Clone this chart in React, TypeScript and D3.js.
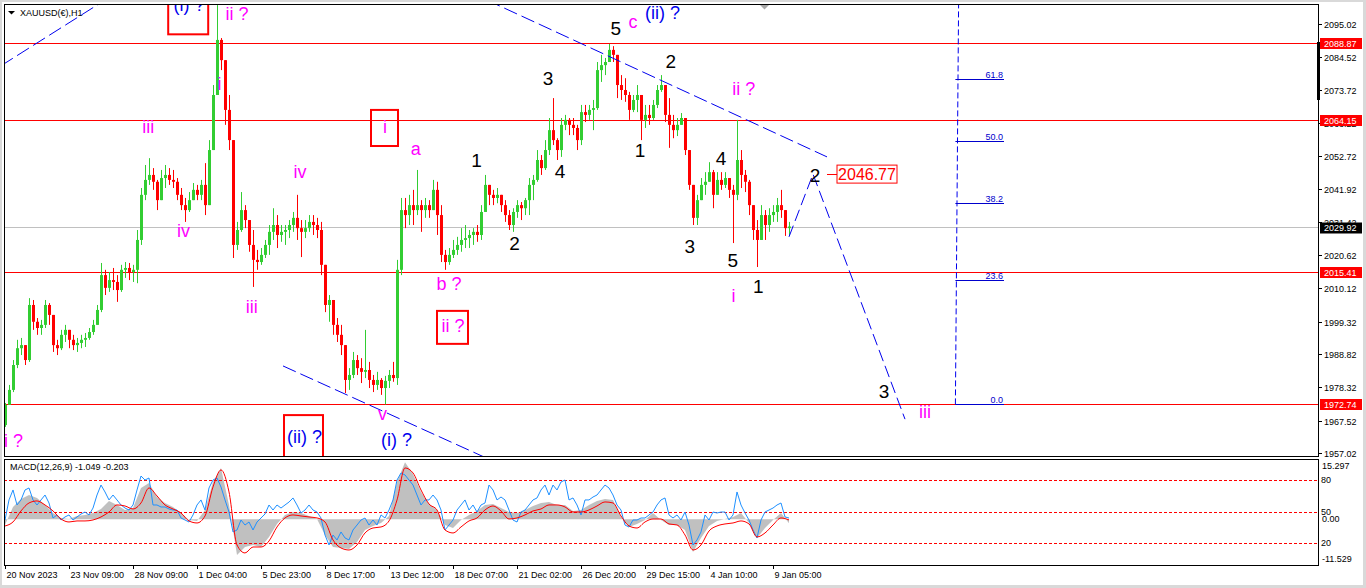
import React from 'react';
import * as d3 from 'd3';

// XAUUSD H1 bars, one entry per ~4 hourly bars
const highs = [
  1973.2, 1979.0, 1987.0, 1993.5, 1994.1, 1991.8, 2006.9, 2006.3, 2000.5, 1999.9,
  2006.3, 2005.3, 2001.5, 1993.5, 1996.7, 1998.3, 1996.7, 1995.1, 1994.1, 1995.1,
  1995.7, 1997.3, 1999.9, 2004.7, 2018.2, 2016.0, 2015.3, 2016.6, 2014.3, 2017.6,
  2018.5, 2018.2, 2017.6, 2028.8, 2042.3, 2049.7, 2051.9, 2048.7, 2044.9, 2048.1,
  2049.7, 2048.7, 2048.1, 2045.5, 2042.3, 2039.1, 2041.0, 2043.9, 2043.3, 2044.9,
  2050.3, 2057.7, 2075.4, 2101.1, 2090.5, 2080.2, 2072.2, 2057.7, 2031.4, 2041.0,
  2036.8, 2032.0, 2028.8, 2022.4, 2023.0, 2025.6, 2030.4, 2035.8, 2033.6, 2030.4,
  2030.4, 2032.0, 2034.6, 2040.1, 2032.0, 2032.0, 2033.6, 2033.6, 2032.7, 2031.4,
  2014.3, 2007.9, 2006.3, 2000.5, 1998.3, 1991.8, 1984.4, 1989.6, 1988.6, 1987.6,
  1996.7, 1986.4, 1982.2, 1983.2, 1981.2, 1981.9, 1983.8, 1986.4, 2019.2, 2039.1,
  2039.1, 2040.1, 2041.7, 2048.1, 2038.4, 2039.1, 2038.4, 2044.9, 2044.3, 2036.8,
  2022.4, 2023.0, 2025.6, 2026.6, 2029.4, 2030.4, 2028.8, 2029.4, 2030.4, 2036.8,
  2046.5, 2042.3, 2041.7, 2042.3, 2040.1, 2038.4, 2035.2, 2035.8, 2038.4, 2037.8,
  2039.1, 2045.5, 2046.5, 2054.5, 2052.9, 2057.7, 2064.8, 2071.2, 2058.3, 2064.8,
  2065.8, 2064.8, 2064.8, 2062.6, 2069.0, 2069.0, 2069.0, 2070.6, 2082.8, 2085.1,
  2084.1, 2088.6, 2087.9, 2085.1, 2078.6, 2077.6, 2073.2, 2072.2, 2075.4, 2072.2,
  2069.0, 2069.0, 2070.6, 2075.4, 2078.6, 2072.2, 2071.2, 2065.8, 2064.8, 2066.4,
  2062.6, 2054.5, 2043.3, 2040.1, 2045.5, 2047.4, 2050.6, 2048.1, 2047.4, 2047.4,
  2047.4, 2045.5, 2043.3, 2064.2, 2054.5, 2048.1, 2044.9, 2036.8, 2032.0, 2036.8,
  2035.2, 2035.8, 2036.8, 2039.1, 2041.7, 2035.2, 2031.4,
];
const lows = [
  1965.5, 1972.6, 1976.7, 1984.4, 1988.6, 1985.4, 1986.4, 1996.7, 1995.1, 1995.1,
  1997.3, 1998.3, 1989.6, 1988.6, 1990.2, 1992.8, 1990.8, 1990.2, 1989.6, 1990.8,
  1991.2, 1993.5, 1995.1, 1998.3, 2002.4, 2007.9, 2008.9, 2009.5, 2005.7, 2008.9,
  2013.4, 2012.7, 2012.1, 2011.7, 2024.0, 2038.4, 2043.3, 2041.7, 2035.2, 2038.4,
  2042.3, 2043.3, 2042.3, 2038.4, 2035.2, 2031.4, 2034.6, 2038.4, 2038.4, 2038.4,
  2033.6, 2041.7, 2054.5, 2072.2, 2080.2, 2062.6, 2054.5, 2019.8, 2022.4, 2028.2,
  2029.4, 2021.8, 2010.5, 2016.0, 2017.6, 2019.8, 2020.8, 2025.6, 2023.0, 2025.0,
  2024.0, 2026.2, 2028.2, 2025.6, 2020.1, 2026.2, 2028.2, 2027.2, 2026.2, 2014.3,
  2002.4, 1999.3, 1995.1, 1992.8, 1988.6, 1976.4, 1977.4, 1981.2, 1982.2, 1979.6,
  1981.2, 1978.0, 1976.7, 1977.4, 1975.8, 1972.7, 1978.0, 1980.0, 1979.0, 2014.3,
  2029.4, 2030.4, 2030.4, 2033.6, 2028.2, 2032.7, 2032.7, 2036.8, 2027.2, 2018.5,
  2016.0, 2017.6, 2019.8, 2020.8, 2021.8, 2023.0, 2023.0, 2024.0, 2025.0, 2025.6,
  2034.6, 2036.8, 2036.8, 2037.4, 2034.6, 2031.4, 2028.8, 2028.2, 2032.7, 2032.0,
  2033.6, 2033.6, 2038.4, 2044.3, 2046.5, 2048.1, 2052.9, 2056.1, 2051.3, 2052.3,
  2060.9, 2059.3, 2059.3, 2054.5, 2056.1, 2063.5, 2064.2, 2060.9, 2067.4, 2076.4,
  2078.6, 2082.8, 2082.8, 2071.2, 2070.6, 2070.0, 2064.2, 2066.7, 2066.7, 2057.7,
  2061.6, 2062.6, 2064.2, 2068.0, 2073.2, 2063.5, 2055.2, 2058.3, 2059.0, 2062.6,
  2052.9, 2041.7, 2030.4, 2030.4, 2038.4, 2040.1, 2044.9, 2035.8, 2041.0, 2041.7,
  2042.3, 2039.1, 2024.6, 2038.4, 2042.3, 2041.0, 2033.6, 2025.6, 2016.9, 2026.2,
  2025.6, 2028.2, 2031.4, 2031.4, 2032.7, 2026.9, 2027.2,
];
const closes = [
  1972.6, 1977.4, 1985.4, 1990.8, 1991.8, 1987.0, 2004.7, 1999.3, 1997.3, 1998.3,
  2004.7, 2001.5, 1991.8, 1990.8, 1995.1, 1996.7, 1993.5, 1991.8, 1992.5, 1993.5,
  1994.1, 1996.0, 1998.3, 2003.1, 2014.3, 2010.2, 2012.7, 2012.1, 2009.5, 2016.0,
  2016.6, 2015.3, 2016.0, 2025.6, 2040.1, 2044.9, 2046.5, 2044.3, 2038.4, 2045.5,
  2046.5, 2044.9, 2044.3, 2040.1, 2036.8, 2035.2, 2038.4, 2041.7, 2040.1, 2043.3,
  2036.8, 2054.5, 2072.2, 2089.9, 2083.4, 2067.4, 2057.7, 2024.0, 2028.8, 2035.2,
  2032.0, 2024.0, 2019.2, 2018.5, 2020.8, 2024.0, 2028.2, 2030.4, 2027.2, 2028.2,
  2028.8, 2030.4, 2032.7, 2029.4, 2028.2, 2029.4, 2031.4, 2030.4, 2028.8, 2017.6,
  2004.7, 2006.3, 1998.3, 1995.1, 1991.8, 1980.6, 1982.2, 1987.0, 1984.4, 1983.2,
  1983.8, 1980.6, 1979.0, 1980.6, 1978.0, 1980.3, 1982.2, 1981.2, 2016.0, 2035.2,
  2033.6, 2036.8, 2035.2, 2036.8, 2035.2, 2036.8, 2035.2, 2041.7, 2033.6, 2020.8,
  2018.5, 2020.8, 2022.4, 2024.0, 2025.6, 2026.2, 2027.2, 2028.2, 2027.2, 2034.6,
  2043.3, 2040.1, 2039.1, 2040.1, 2036.8, 2033.6, 2030.4, 2034.6, 2036.8, 2035.8,
  2038.4, 2043.3, 2044.9, 2051.3, 2048.7, 2054.5, 2060.9, 2057.7, 2054.5, 2062.6,
  2064.2, 2062.6, 2061.6, 2057.7, 2066.7, 2065.8, 2067.4, 2068.0, 2080.2, 2081.8,
  2082.8, 2086.7, 2085.1, 2075.4, 2073.8, 2072.2, 2067.4, 2070.6, 2072.2, 2064.2,
  2065.8, 2064.8, 2069.0, 2073.8, 2075.4, 2065.8, 2062.6, 2060.9, 2062.6, 2064.8,
  2054.5, 2043.3, 2032.7, 2038.4, 2043.3, 2044.3, 2047.4, 2040.1, 2044.9, 2043.3,
  2045.5, 2041.7, 2040.1, 2051.3, 2046.5, 2044.3, 2036.8, 2028.8, 2025.6, 2033.6,
  2030.4, 2033.6, 2034.6, 2036.8, 2035.2, 2029.4, 2029.92,
];
const firstOpen = 1966.1;

// MACD(12,26,9): main and signal, one value every 2 bars
const macdMain = [
  -1.53, 3.21, 5.32, 6.37, 5.58, 3.74, 1.63, 0.32, 0.05, 0.84,
  1.11, 1.63, 2.68, 4.79, 3.74, 2.42, 2.95, 8.21, 9.53, 5.84,
  4.26, 3.21, 1.63, -0.21, -0.47, 2.42, 9.79, 13.47, 3.74, -9.42,
  -7.32, -6.79, -7.32, -4.68, -1.26, 1.11, 1.89, 1.63, 0.84, 0.05,
  -4.16, -7.32, -7.58, -7.84, -6.0, -2.84, -1.79, -1.0, 0.84, 9.79,
  15.0, 11.89, 7.16, 4.0, 2.42, -1.53, -2.32, -0.21, 1.11, 2.16,
  3.74, 4.0, 2.95, 1.89, 1.63, 2.42, 3.47, 4.26, 4.53, 3.74,
  3.74, 2.16, 2.42, 3.74, 4.79, 5.32, 5.05, 0.58, -2.05, -1.26,
  -0.21, 1.63, -0.21, -1.53, -1.53, -2.84, -8.63, -4.95, -1.79, -0.47,
  0.05, 0.58, 1.63, -1.0, -4.95, -2.32, -0.21, 1.63, -1.049,
];
const macdSignal = [
  -1.79, -0.74, 2.16, 4.26, 4.79, 3.74, 2.16, 0.05, -0.74, -0.47,
  -0.47, -0.21, 0.58, 1.89, 3.74, 3.47, 2.68, 4.26, 8.21, 6.11,
  3.74, 2.68, 1.63, -0.47, -1.0, 0.84, 8.47, 12.95, 7.16, -6.79,
  -8.89, -7.32, -7.32, -5.74, -2.05, 0.32, 1.11, 0.84, 0.58, 0.32,
  -0.74, -5.47, -7.58, -8.11, -6.79, -3.63, -2.32, -2.05, -0.47, 5.05,
  13.47, 12.16, 7.68, 4.0, 2.42, -2.84, -3.63, -2.05, -0.47, 0.32,
  2.42, 3.47, 2.16, 0.05, 0.32, 1.11, 2.16, 2.68, 3.74, 3.74,
  3.21, 1.89, 1.89, 2.42, 3.47, 4.53, 4.26, 0.84, -1.79, -2.32,
  -0.74, 0.05, 0.05, -1.26, -1.53, -4.16, -8.11, -6.79, -3.11, -1.79,
  -1.26, -1.0, -0.47, -1.26, -4.68, -3.63, -1.53, 0.32, -0.203,
];
// blue oscillator on the 0..100 level scale, one value per bar
const oscValues = [
  41.9, 61.0, 70.5, 56.2, 61.0, 70.5, 72.4, 61.0, 56.2, 61.0,
  65.7, 58.1, 43.8, 46.7, 41.9, 44.8, 46.7, 41.9, 44.8, 47.6,
  49.5, 46.7, 53.3, 65.7, 75.2, 68.6, 61.0, 65.7, 61.0, 56.2,
  53.3, 51.4, 56.2, 70.5, 83.8, 80.0, 81.9, 56.2, 56.2, 54.3,
  54.3, 52.4, 51.4, 51.4, 43.8, 41.9, 40.0, 46.7, 56.2, 61.0,
  51.4, 72.4, 80.0, 81.9, 73.3, 61.0, 49.5, 30.5, 32.4, 41.9,
  37.1, 40.0, 32.4, 40.0, 43.8, 47.6, 56.2, 51.4, 56.2, 53.3,
  56.2, 59.0, 62.9, 56.2, 48.6, 51.4, 56.2, 51.4, 49.5, 43.8,
  27.6, 18.1, 27.6, 22.9, 30.5, 24.8, 22.9, 32.4, 37.1, 41.9,
  43.8, 37.1, 41.9, 37.1, 46.7, 43.8, 51.4, 61.0, 80.0, 86.7,
  84.8, 80.0, 75.2, 65.7, 56.2, 61.0, 61.0, 65.7, 61.0, 51.4,
  32.4, 37.1, 41.9, 51.4, 56.2, 61.0, 51.4, 56.2, 49.5, 56.2,
  58.1, 75.2, 70.5, 61.0, 63.8, 61.0, 51.4, 41.9, 40.0, 49.5,
  51.4, 56.2, 61.0, 62.9, 70.5, 75.2, 65.7, 75.2, 70.5, 78.1,
  80.0, 61.0, 62.9, 56.2, 46.7, 61.0, 61.0, 63.8, 65.7, 70.5,
  75.2, 72.4, 65.7, 56.2, 51.4, 37.1, 35.2, 41.9, 41.9, 43.8,
  43.8, 46.7, 49.5, 56.2, 61.0, 62.9, 46.7, 43.8, 46.7, 41.9,
  49.5, 37.1, 18.1, 22.9, 30.5, 46.7, 41.9, 49.5, 48.6, 49.5,
  49.5, 41.9, 46.7, 68.6, 56.2, 48.6, 41.9, 32.4, 24.8, 41.9,
  49.5, 51.4, 53.3, 56.2, 58.1, 44.8, 43.8,
];
const oscLevels = [80, 50, 20];
const macdRange = [-11.529, 15.297];

const priceTicks = [2095.02, 2084.52, 2073.72, 2063.22, 2052.72, 2041.92, 2031.42, 2020.62, 2010.12, 1999.32, 1988.82, 1978.32, 1967.52, 1957.02];
const levelPrices = [2088.87, 2064.15, 2015.41, 1972.74];
const lastPrice = 2029.92;
const dateLabels = ['20 Nov 2023', '23 Nov 09:00', '28 Nov 09:00', '1 Dec 04:00', '5 Dec 23:00', '8 Dec 17:00', '13 Dec 12:00', '18 Dec 07:00', '21 Dec 02:00', '26 Dec 20:00', '29 Dec 15:00', '4 Jan 10:00', '9 Jan 05:00'];
const dateStep = 16;

// fibonacci retracement
const fibLevels = [0, 23.6, 38.2, 50.0, 61.8];
const fibBase = 1972.74;
const fibRange = 169.1;
const fibTimes = [237.6, 238.4, 249.75];

// trend lines and projected path, [bar, price]
const trendLines = [
  [[-1, 2081.6], [24, 2101.9]],
  [[69.5, 1985.1], [120, 1955.7]],
  [[120.5, 2102.7], [205.5, 2052.3]],
];
const projTimes = [196, 202, 225];
const projPrices = [2026.6, 2046.77, 1968.0];
const targetPrice = 2046.77;

const waveLabels = [
  { t: 2.1, p: 1959.0, text: 'i ?', kind: 'm' },
  { t: 35.8, p: 2059.9, text: 'iii', kind: 'm' },
  { t: 44.6, p: 2026.6, text: 'iv', kind: 'm' },
  { t: 53.6, p: 2073.8, text: 'i', kind: 'm' },
  { t: 58.0, p: 2096.3, text: 'ii ?', kind: 'm' },
  { t: 61.7, p: 2002.1, text: 'iii', kind: 'm' },
  { t: 73.75, p: 2045.5, text: 'iv', kind: 'm' },
  { t: 94.4, p: 1967.7, text: 'v', kind: 'm' },
  { t: 95.0, p: 2059.9, text: 'i', kind: 'm' },
  { t: 102.7, p: 2052.9, text: 'a', kind: 'm' },
  { t: 111.0, p: 2009.5, text: 'b ?', kind: 'm' },
  { t: 112.0, p: 1996.0, text: 'ii ?', kind: 'm' },
  { t: 157.0, p: 2093.7, text: 'c', kind: 'm' },
  { t: 182.1, p: 2005.7, text: 'i', kind: 'm' },
  { t: 184.7, p: 2072.2, text: 'ii ?', kind: 'm' },
  { t: 230.0, p: 1968.4, text: 'iii', kind: 'm' },
  { t: 46.0, p: 2099.2, text: '(i) ?', kind: 'b' },
  { t: 74.9, p: 1960.3, text: '(ii) ?', kind: 'b' },
  { t: 97.9, p: 1959.4, text: '(i) ?', kind: 'b' },
  { t: 164.4, p: 2096.6, text: '(ii) ?', kind: 'b' },
  { t: 117.9, p: 2049.1, text: '1', kind: 'k' },
  { t: 127.4, p: 2022.4, text: '2', kind: 'k' },
  { t: 135.75, p: 2075.4, text: '3', kind: 'k' },
  { t: 138.75, p: 2045.5, text: '4', kind: 'k' },
  { t: 152.7, p: 2091.5, text: '5', kind: 'k' },
  { t: 158.75, p: 2052.3, text: '1', kind: 'k' },
  { t: 166.45, p: 2080.9, text: '2', kind: 'k' },
  { t: 171.2, p: 2021.4, text: '3', kind: 'k' },
  { t: 179.0, p: 2049.7, text: '4', kind: 'k' },
  { t: 181.95, p: 2016.9, text: '5', kind: 'k' },
  { t: 188.3, p: 2008.5, text: '1', kind: 'k' },
  { t: 202.5, p: 2044.2, text: '2', kind: 'k' },
  { t: 219.75, p: 1974.8, text: '3', kind: 'k' },
];
const labelBoxes = [
  { t0: 40.8, t1: 50.8, p0: 2106, p1: 2091.7 },
  { t0: 91.5, t1: 98.25, p0: 2067.4, p1: 2055.8 },
  { t0: 108, t1: 115.75, p0: 2002.8, p1: 1992.2 },
  { t0: 69.75, t1: 79.5, p0: 1969.3, p1: 1952 },
];

const FONT = "'Liberation Sans', Arial, sans-serif";
const GREEN = '#32cd32';
const RED = '#ff0000';
const MAG = '#ff00ff';
const BLUE = '#0000ee';
const kindColor: Record<string, string> = { m: MAG, b: BLUE, k: '#000' };

const W = 1366, H = 588;
const L = 4, R = 1318, T = 4, B = 456;
const MT = 459, MB = 565;

const App: React.FC = () => {
  const x = d3.scaleLinear().domain([0, 196]).range([5, 789]);
  const y = d3.scaleLinear().domain([1957.02, 2095.02]).range([453.3, 24]);
  const my = d3.scaleLinear().domain(macdRange).range([563, 461]);
  const oy = d3.scaleLinear().domain([0, 100]).range([564, 459]);
  const snap = (v: number) => Math.round(v) + 0.5;

  const histArea = d3.area<number>()
    .x((_, i) => x(i * 2))
    .y0(my(0))
    .y1(d => my(d));
  const signalLine = d3.line<number>()
    .x((_, i) => x(i * 2))
    .y(d => my(d))
    .curve(d3.curveMonotoneX);
  const oscLine = d3.line<number>()
    .x((_, i) => x(i))
    .y(d => oy(d));
  const projLine = d3.line<number>()
    .x((_, i) => x(projTimes[i]))
    .y(d => y(d));

  const fibX1 = x(fibTimes[0]);
  const fibX2 = x(fibTimes[2]);
  const targetY = y(targetPrice);

  return (
    <div>
      <style>{'body{margin:0;overflow:hidden}'}</style>
      <svg width={W} height={H} style={{ display: 'block', fontFamily: FONT }}>
        <defs>
          <clipPath id="mainClip"><rect x={L + 1} y={T + 1} width={R - L - 1} height={B - T - 1} /></clipPath>
          <clipPath id="macdClip"><rect x={L + 1} y={MT + 1} width={R - L - 1} height={MB - MT - 1} /></clipPath>
        </defs>
        <rect width={W} height={H} fill="#d9d9d9" />
        <rect x={2} y={2} width={W - 5} height={H - 5} fill="#fff" />

        <g clipPath="url(#mainClip)">
          {levelPrices.map(v => (
            <line key={v} x1={L} x2={R} y1={snap(y(v))} y2={snap(y(v))} stroke={RED} strokeWidth={1} />
          ))}
          <line x1={L} x2={R} y1={snap(y(lastPrice))} y2={snap(y(lastPrice))} stroke="#c0c0c0" />

          {closes.map((c, i) => {
            const o = i === 0 ? firstOpen : closes[i - 1];
            const col = c >= o ? GREEN : RED;
            const cx = Math.round(x(i)) + 0.5;
            const yo = y(o), yc = y(c);
            return (
              <g key={i}>
                <line x1={cx} x2={cx} y1={y(Math.max(highs[i], o))} y2={y(Math.min(lows[i], o))} stroke={col} />
                <rect x={cx - 1.5} width={3} y={Math.min(yo, yc)} height={Math.max(1, Math.abs(yo - yc))} fill={col} />
              </g>
            );
          })}

          {trendLines.map((ln, k) => (
            <line key={k} x1={x(ln[0][0])} y1={y(ln[0][1])} x2={x(ln[1][0])} y2={y(ln[1][1])}
              stroke={BLUE} strokeWidth={1} strokeDasharray="14 5" />
          ))}
          <path d={projLine(projPrices) || ''} fill="none" stroke={BLUE} strokeDasharray="12 5" />

          <line x1={x(fibTimes[0])} y1={y(fibBase)} x2={x(fibTimes[1])} y2={T} stroke={BLUE} strokeDasharray="6 3" />
          {fibLevels.map(lv => {
            const fy = snap(y(fibBase + (lv / 100) * fibRange));
            return (
              <g key={lv}>
                <line x1={fibX1} x2={fibX2} y1={fy} y2={fy} stroke="#0000cd" />
                <text x={fibX2 - 1} y={fy - 2} textAnchor="end" fontSize={9} fill="#0000cc">{lv.toFixed(1)}</text>
              </g>
            );
          })}

          {labelBoxes.map((b, k) => (
            <rect key={k} x={x(b.t0)} y={y(b.p0)} width={x(b.t1) - x(b.t0)} height={y(b.p1) - y(b.p0)}
              fill="none" stroke={RED} strokeWidth={2} />
          ))}
          {waveLabels.map((w, k) => (
            <text key={k} x={x(w.t)} y={y(w.p)} textAnchor="middle" fontSize={w.kind === 'k' ? 19 : 18}
              fill={kindColor[w.kind]}>{w.text}</text>
          ))}

          <line x1={x(205.5)} x2={x(208)} y1={snap(targetY)} y2={snap(targetY)} stroke={RED} />
          <rect x={x(208)} y={targetY - 9} width={60} height={18} fill="#fff" stroke={RED} strokeWidth={1} />
          <text x={x(208) + 30} y={targetY + 6} textAnchor="middle" fontSize={16} fill={RED}>{targetPrice.toFixed(2)}</text>

          <polygon points="760,5 769,5 764.5,9.5" fill="#a8a8a8" />
          <polygon points="8,11 15,11 11.5,14.5" fill="#000" />
          <text x={20} y={15.5} fontSize={9} fill="#000">XAUUSD(€),H1</text>
        </g>

        <rect x={L + 0.5} y={T + 0.5} width={R - L} height={B - T} fill="none" stroke="#000" />
        <rect x={R - 1} y={42} width={3} height={58} fill="#000" />

        {priceTicks.map(v => {
          const ty = snap(y(v));
          return (
            <g key={v}>
              <line x1={R} x2={R + 4} y1={ty} y2={ty} stroke="#000" />
              <text x={1324} y={ty + 3.3} fontSize={9} fill="#000">{v.toFixed(2)}</text>
            </g>
          );
        })}
        {levelPrices.map(v => {
          const ty = snap(y(v));
          return (
            <g key={v}>
              <rect x={1320} y={ty - 5.5} width={42} height={11} fill={RED} />
              <text x={1324} y={ty + 3.3} fontSize={9} fill="#fff">{v.toFixed(2)}</text>
            </g>
          );
        })}
        <rect x={1320} y={snap(y(lastPrice)) - 5} width={42} height={11} fill="#000" />
        <text x={1324} y={snap(y(lastPrice)) + 3.8} fontSize={9} fill="#fff">{lastPrice.toFixed(2)}</text>

        {/* MACD sub-window */}
        <g clipPath="url(#macdClip)">
          <path d={histArea(macdMain) || ''} fill="#c0c0c0" />
          {oscLevels.map(v => (
            <line key={v} x1={L} x2={R} y1={snap(oy(v))} y2={snap(oy(v))} stroke={RED} strokeDasharray="3 2" />
          ))}
          <path d={oscLine(oscValues) || ''} fill="none" stroke="#1e90ff" strokeWidth={1} />
          <path d={signalLine(macdSignal) || ''} fill="none" stroke={RED} strokeWidth={1} />
          <text x={10} y={470} fontSize={9} fill="#000">
            {`MACD(12,26,9) ${macdMain[macdMain.length - 1].toFixed(3)} ${macdSignal[macdSignal.length - 1].toFixed(3)}`}
          </text>
        </g>
        <rect x={L + 0.5} y={MT + 0.5} width={R - L} height={MB - MT} fill="none" stroke="#000" />
        <text x={1322} y={468.5} fontSize={9}>{macdRange[1].toFixed(3)}</text>
        <text x={1322} y={561.5} fontSize={9}>{macdRange[0].toFixed(3)}</text>
        <text x={1322} y={521.5} fontSize={9}>{(0).toFixed(2)}</text>
        {oscLevels.map(v => (
          <text key={v} x={1321} y={oy(v) + 3} fontSize={9}>{v}</text>
        ))}

        {dateLabels.map((d, k) => {
          const tx = snap(x(k * dateStep));
          return (
            <g key={d}>
              <line x1={tx} x2={tx} y1={MB} y2={MB + 4} stroke="#000" />
              <text x={tx + 1} y={578} fontSize={9} fill="#000">{d}</text>
            </g>
          );
        })}
      </svg>
    </div>
  );
};

export default App;
